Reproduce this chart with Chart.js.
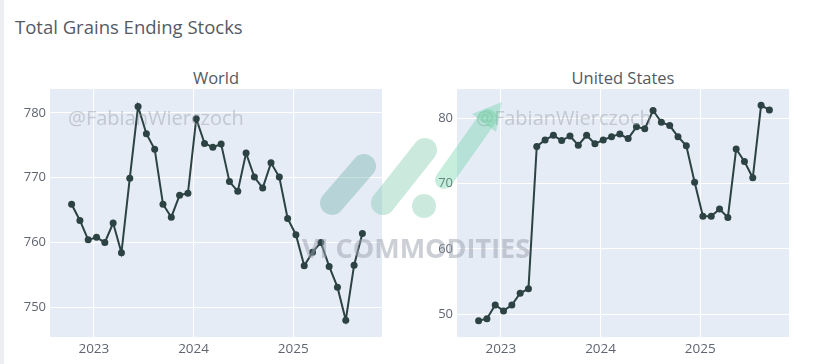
<!DOCTYPE html>
<html>
<head>
<meta charset="utf-8">
<script src="https://cdn.jsdelivr.net/npm/chart.js@4.4.0/dist/chart.umd.min.js"></script>
<style>
  html, body { margin: 0; padding: 0; background: #ffffff; }
  body { width: 813px; height: 364px; position: relative; overflow: hidden; font-family: "Open Sans", sans-serif; }
  .edge { position: absolute; left: 0; top: 0; width: 4px; height: 364px; background: #eceef1; }
  .title { position: absolute; left: 15px; top: 14px; font-size: 18.5px; color: #555a62; white-space: nowrap; }
  .sub { position: absolute; top: 66px; font-size: 16.5px; color: #555a62; white-space: nowrap; transform: translateX(-50%); }
  canvas { position: absolute; }
  #overlay { pointer-events: none; }
</style>
</head>
<body>
<div class="edge"></div>
<div class="title">Total Grains Ending Stocks</div>
<div class="sub" style="left:216px">World</div>
<div class="sub" style="left:623px">United States</div>
<canvas id="world" style="left:0px;top:84px" width="400" height="280"></canvas>
<canvas id="us" style="left:400px;top:84px" width="413" height="280"></canvas>
<canvas id="overlay" style="left:0;top:0" width="813" height="364"></canvas>
<script>
// monthly report dates, Oct 2022 .. Sep 2025
const months = [
    '2022-10', '2022-11', '2022-12',
    '2023-01', '2023-02', '2023-03', '2023-04', '2023-05', '2023-06',
    '2023-07', '2023-08', '2023-09', '2023-10', '2023-11', '2023-12',
    '2024-01', '2024-02', '2024-03', '2024-04', '2024-05', '2024-06',
    '2024-07', '2024-08', '2024-09', '2024-10', '2024-11', '2024-12',
    '2025-01', '2025-02', '2025-03', '2025-04', '2025-05', '2025-06',
    '2025-07', '2025-08', '2025-09'
];

const worldStocks = [
    765.9, 763.4, 760.4,
    760.8, 760.0, 763.0, 758.4, 769.9, 781.0,
    776.8, 774.4, 765.9, 763.9, 767.3, 767.6,
    779.1, 775.3, 774.7, 775.2, 769.4, 767.9,
    773.8, 770.1, 768.4, 772.3, 770.1, 763.7,
    761.2, 756.4, 758.5, 760.0, 756.3, 753.1,
    748.0, 756.5, 761.4
];

const usStocks = [
    49.0, 49.3, 51.4,
    50.5, 51.4, 53.2, 53.9, 75.7, 76.7,
    77.4, 76.6, 77.3, 75.9, 77.4, 76.1,
    76.7, 77.2, 77.6, 76.9, 78.7, 78.4,
    81.2, 79.4, 78.9, 77.2, 75.8, 70.2,
    65.0, 65.0, 66.1, 64.8, 75.3, 73.4,
    70.9, 82.0, 81.3
];

const yearTicks = [2023, 2024, 2025];
const worldTicks = [750, 760, 770, 780];
const usTicks = [50, 60, 70, 80];

const lineColor = '#2c4243';
const tickColor = '#5f6571';
const plotBg = '#e5ecf6';

// report dates land around the 10th of each month
function toYear(m) {
    const [y, mo] = m.split('-').map(Number);
    return y + (mo - 1 + 0.32) / 12;
}

const plotBgPlugin = {
    id: 'plotBg',
    beforeDraw(chart) {
        const a = chart.chartArea;
        const ctx = chart.ctx;
        ctx.save();
        ctx.fillStyle = plotBg;
        ctx.fillRect(a.left, a.top, a.right - a.left, a.bottom - a.top);
        ctx.restore();
    }
};

function makeChart(id, values, ticks, yMin, yMax, axisWidth, padRight) {
    const canvas = document.getElementById(id);
    return new Chart(canvas, {
        type: 'line',
        data: {
            datasets: [{
                data: months.map((m, i) => ({ x: toYear(m), y: values[i] })),
                borderColor: lineColor,
                backgroundColor: lineColor,
                borderWidth: 2,
                pointRadius: 3.5,
                pointBorderWidth: 0,
                tension: 0,
                clip: false
            }]
        },
        plugins: [plotBgPlugin],
        options: {
            responsive: false,
            animation: false,
            layout: { autoPadding: false, padding: { top: 5, right: padRight, left: 0, bottom: 0 } },
            plugins: {
                legend: { display: false },
                tooltip: { enabled: false }
            },
            scales: {
                x: {
                    type: 'linear',
                    min: 2022.56,
                    max: 2025.89,
                    afterBuildTicks: axis => { axis.ticks = yearTicks.map(v => ({ value: v })); },
                    afterFit: axis => {
                        axis.height = 27;
                        axis.paddingLeft = 0;
                        axis.paddingRight = 0;
                    },
                    ticks: {
                        color: tickColor,
                        padding: 4,
                        maxRotation: 0,
                        font: { family: 'Open Sans', size: 13.5 },
                        callback: v => String(v)
                    },
                    grid: { color: '#ffffff', lineWidth: 1, drawTicks: false },
                    border: { display: false }
                },
                y: {
                    min: yMin,
                    max: yMax,
                    afterBuildTicks: axis => { axis.ticks = ticks.map(v => ({ value: v })); },
                    afterFit: axis => {
                        axis.width = axisWidth;
                        axis.paddingTop = 0;
                        axis.paddingBottom = 0;
                    },
                    ticks: {
                        color: tickColor,
                        padding: 4,
                        font: { family: 'Open Sans', size: 13 }
                    },
                    grid: { color: '#ffffff', lineWidth: 1, drawTicks: false },
                    border: { display: false }
                }
            }
        }
    });
}

makeChart('world', worldStocks, worldTicks, 745.4, 783.7, 50, 18);
makeChart('us', usStocks, usTicks, 46.5, 84.5, 57, 24);

// watermarks laid over the figure
(function drawWatermarks() {
    const ctx = document.getElementById('overlay').getContext('2d');
    ctx.save();
    ctx.font = '20px "Open Sans"';
    ctx.fillStyle = 'rgba(150, 155, 165, 0.45)';
    ctx.textBaseline = 'middle';
    ctx.fillText('@FabianWierczoch', 68, 119);
    ctx.fillText('@FabianWierczoch', 476, 119);

    ctx.lineCap = 'round';
    ctx.globalAlpha = 0.35;
    ctx.strokeStyle = '#5fa8a0';
    ctx.lineWidth = 24;
    ctx.beginPath(); ctx.moveTo(332, 203); ctx.lineTo(364, 166); ctx.stroke();
    ctx.strokeStyle = '#6cc1a0';
    ctx.beginPath(); ctx.moveTo(383, 203); ctx.lineTo(425, 150); ctx.stroke();
    ctx.beginPath(); ctx.arc(424, 206, 12, 0, Math.PI * 2); ctx.fillStyle = '#6cc1a0'; ctx.fill();
    ctx.strokeStyle = '#5fcf9a';
    ctx.lineWidth = 18;
    ctx.beginPath(); ctx.moveTo(444, 180); ctx.lineTo(488, 118); ctx.stroke();
    ctx.beginPath();
    ctx.moveTo(502, 102); ctx.lineTo(496, 132); ctx.lineTo(472, 114); ctx.closePath();
    ctx.fillStyle = '#5fcf9a'; ctx.fill();

    ctx.globalAlpha = 0.5;
    ctx.fillStyle = '#9aa0ad';
    ctx.font = 'bold 27px "Open Sans"';
    ctx.fillText('VI COMMODITIES', 302, 250);
    ctx.restore();
})();
</script>
</body>
</html>
